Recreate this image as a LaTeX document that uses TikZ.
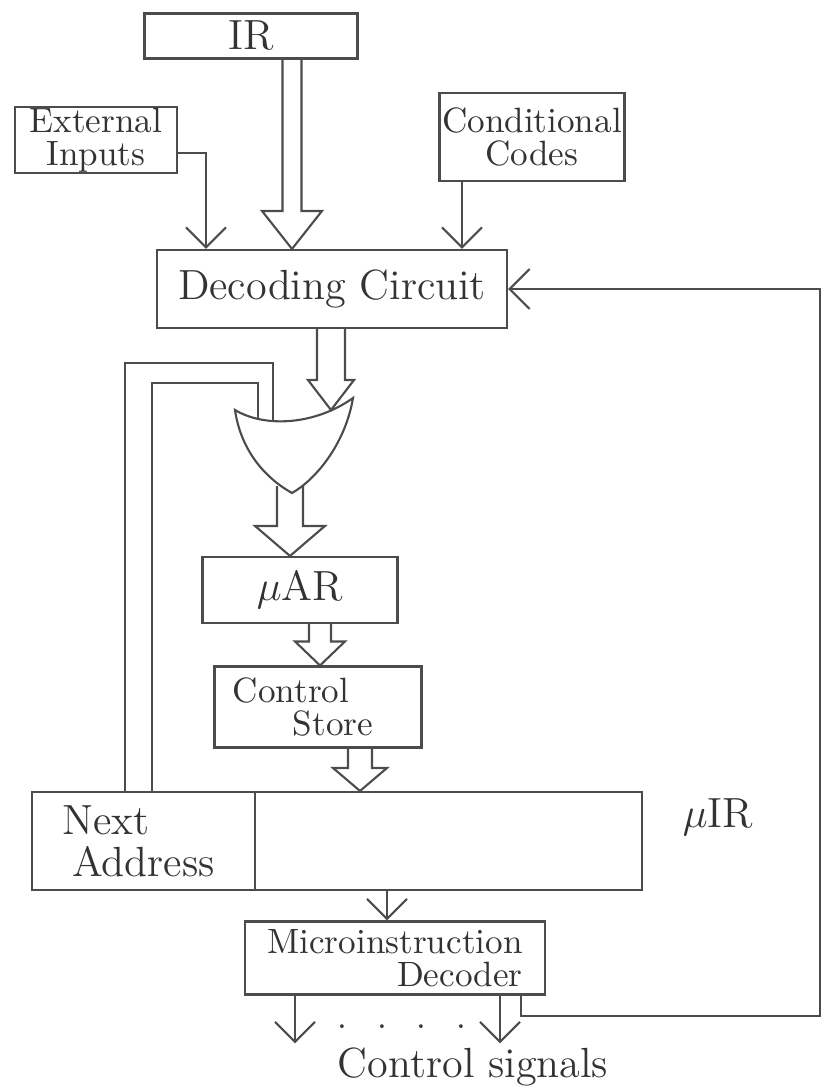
\documentclass[tikz,border=0pt]{standalone}
\usetikzlibrary{arrows.meta}

% wide bus arrow: x, from, to, half shaft, half head, head length
\newcommand{\busarrow}[6]{%
  \path (#1,0 |- #3) coordinate (bustip) ++(0,#6) coordinate (bushead);
  \draw (#1-#4,0 |- #2) -- (#1-#4,0 |- bushead) -- (#1-#5,0 |- bushead)
    -- (bustip) -- (#1+#5,0 |- bushead) -- (#1+#4,0 |- bushead) -- (#1+#4,0 |- #2);
}

\begin{document}
\begin{tikzpicture}[line width=0.6pt, draw=black!70, text=black!80,
  font=\fontsize{10}{9.5}\selectfont,
  >={Straight Barb[length=2mm,width=4mm]},
  box/.style={draw, inner sep=0pt, align=center},
  big/.style={font=\fontsize{12}{12}\selectfont}]
\useasboundingbox (0,0) rectangle (8.25,-10.91);

\node (ir) at (2.51,-0.36) [box, big, minimum width=2.13cm, minimum height=0.45cm] {IR};
\node (ext) at (0.96,-1.40) [box, minimum width=1.62cm, minimum height=0.66cm] {External\\Inputs};
\node (cc) at (5.32,-1.37) [box, minimum width=1.85cm, minimum height=0.88cm] {Conditional\\Codes};
\node (dec) at (3.32,-2.89) [box, big, minimum width=3.5cm, minimum height=0.78cm] {Decoding Circuit};
\node (mar) at (3.00,-5.90) [box, big, minimum width=1.95cm, minimum height=0.66cm] {$\mu$AR};
\node (cs) at (3.18,-7.07) [box, align=left, minimum width=2.07cm, minimum height=0.81cm] {\hspace{-3mm}Control\\\hspace{3mm}Store};
\node (na) at (1.435,-8.41) [box, big, align=left, minimum width=2.23cm, minimum height=0.98cm] {\hspace{-1mm}Next\\Address};
\node (mir) at (4.485,-8.41) [box, minimum width=3.87cm, minimum height=0.98cm] {};
\node (mirname) at (7.18,-8.17) [big] {$\mu$IR};
\node (mid) at (3.95,-9.58) [box, align=right, minimum width=3.0cm, minimum height=0.73cm] {Microinstruction\\Decoder};
\node (dots) at (4.02,-10.27) {.\hspace{3mm}.\hspace{3mm}.\hspace{3mm}.};
\node (sig) at (4.73,-10.67) [big, inner sep=1pt] {Control signals};

% selector between decoder and next address
\draw (2.35,-4.10) .. controls (2.65,-4.28) and (3.15,-4.25) .. (3.53,-3.98)
  .. controls (3.45,-4.45) and (3.15,-4.80) .. (2.92,-4.93)
  .. controls (2.60,-4.75) and (2.40,-4.45) .. cycle;
\coordinate (muxa) at (2.58,-4.19);
\coordinate (muxb) at (2.73,-4.21);
\coordinate (muxc) at (3.31,-4.10);
\coordinate (muxout) at (2.90,-4.86);

\draw[->] ([yshift=-1.3mm]ext.east) -| (2.06,0 |- dec.north);
\draw[->] (4.62,0 |- cc.south) -- (4.62,0 |- dec.north);
\busarrow{2.92}{ir.south}{dec.north}{0.095}{0.30}{0.38}
\busarrow{3.31}{dec.south}{muxc}{0.14}{0.23}{0.30}
\busarrow{2.90}{muxout}{mar.north}{0.13}{0.35}{0.30}
\busarrow{3.20}{mar.south}{cs.north}{0.11}{0.25}{0.24}
\busarrow{3.60}{cs.south}{mir.north}{0.12}{0.27}{0.23}

% next address back to the selector
\draw (1.25,0 |- na.north) |- (0,-3.63 -| muxb) -- (muxb);
\draw (1.52,0 |- na.north) |- (0,-3.83 -| muxa) -- (muxa);

\draw[->] (3.87,0 |- mir.south) -- (3.87,0 |- mid.north);
\draw[->] (2.95,0 |- mid.south) -- (2.95,0 |- sig.north);
\draw[->] (5.00,0 |- mid.south) -- (5.00,0 |- sig.north);
\draw[->] ([xshift=-2.5mm]mid.south east) -- ++(0,-0.2) -| (8.20,0 |- dec.east) -- (dec.east);
\end{tikzpicture}
\end{document}
